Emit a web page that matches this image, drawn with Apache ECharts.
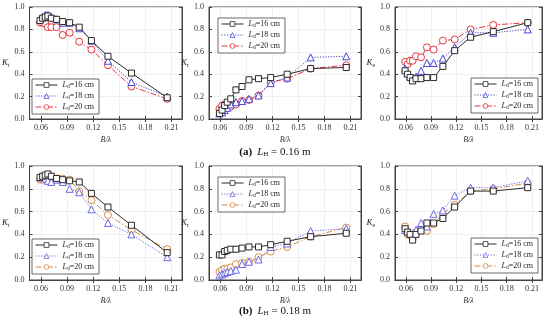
<!DOCTYPE html>
<html><head><meta charset="utf-8">
<script src="https://cdn.jsdelivr.net/npm/echarts@6/dist/echarts.min.js"></script>
<style>html,body{margin:0;padding:0;background:#fff}#c{width:550px;height:323px}</style>
</head><body><div id="c"></div>
<script>
// B/lambda values (shared by all series)
const xVals = [0.059, 0.062, 0.065, 0.068, 0.072, 0.078, 0.085, 0.093, 0.104, 0.118, 0.137, 0.164, 0.205];
const xTicks = [0.06, 0.09, 0.12, 0.15, 0.18, 0.21];
const yTicks = [0, 0.2, 0.4, 0.6, 0.8, 1.0];
const legendLabels = ['Ld=16 cm', 'Ld=18 cm', 'Ld=20 cm'];
const yNames = ['t', 'r', 'e'];
const captions = ['(a) LH = 0.16 m', '(b) LH = 0.18 m'];

// (a) LH = 0.16 m
const aKt16 = [0.88, 0.90, 0.91, 0.92, 0.90, 0.89, 0.87, 0.86, 0.82, 0.70, 0.56, 0.41, 0.19];
const aKt18 = [0.89, 0.91, 0.93, 0.93, 0.91, 0.89, 0.86, 0.86, 0.81, 0.70, 0.52, 0.33, 0.20];
const aKt20 = [0.86, 0.86, 0.85, 0.82, 0.82, 0.82, 0.75, 0.77, 0.69, 0.62, 0.48, 0.29, 0.18];
const aKr16 = [0.05, 0.08, 0.12, 0.15, 0.18, 0.26, 0.29, 0.35, 0.36, 0.37, 0.40, 0.45, 0.46];
const aKr18 = [0.05, 0.06, 0.08, 0.10, 0.13, 0.15, 0.16, 0.18, 0.21, 0.32, 0.37, 0.55, 0.56];
const aKr20 = [0.09, 0.12, 0.13, 0.10, 0.11, 0.13, 0.16, 0.17, 0.21, 0.33, 0.36, 0.45, 0.48];
const aKe16 = [0.43, 0.40, 0.37, 0.34, 0.36, 0.36, 0.37, 0.37, 0.47, 0.61, 0.73, 0.78, 0.86];
const aKe18 = [0.45, 0.41, 0.38, 0.37, 0.38, 0.43, 0.50, 0.50, 0.54, 0.64, 0.77, 0.77, 0.80];
const aKe20 = [0.51, 0.49, 0.52, 0.52, 0.56, 0.55, 0.64, 0.62, 0.70, 0.71, 0.80, 0.84, 0.86];
// (b) LH = 0.18 m
const bKt16 = [0.90, 0.91, 0.92, 0.93, 0.91, 0.89, 0.88, 0.87, 0.86, 0.76, 0.64, 0.48, 0.24];
const bKt18 = [0.90, 0.90, 0.89, 0.87, 0.86, 0.88, 0.86, 0.80, 0.77, 0.62, 0.50, 0.40, 0.20];
const bKt20 = [0.88, 0.88, 0.90, 0.91, 0.90, 0.89, 0.89, 0.88, 0.78, 0.70, 0.57, 0.44, 0.27];
const bKr16 = [0.22, 0.22, 0.25, 0.26, 0.27, 0.27, 0.28, 0.29, 0.29, 0.31, 0.34, 0.38, 0.41];
const bKr18 = [0.04, 0.05, 0.06, 0.07, 0.08, 0.09, 0.14, 0.16, 0.18, 0.29, 0.32, 0.43, 0.45];
const bKr20 = [0.07, 0.09, 0.10, 0.10, 0.11, 0.14, 0.15, 0.16, 0.20, 0.25, 0.29, 0.38, 0.46];
const bKe16 = [0.45, 0.42, 0.40, 0.35, 0.40, 0.43, 0.50, 0.50, 0.54, 0.64, 0.78, 0.78, 0.81];
const bKe18 = [0.44, 0.43, 0.41, 0.38, 0.44, 0.50, 0.47, 0.58, 0.61, 0.74, 0.81, 0.81, 0.87];
const bKe20 = [0.47, 0.40, 0.39, 0.37, 0.42, 0.45, 0.43, 0.49, 0.58, 0.66, 0.78, 0.80, 0.85];

const panelData = [
  [aKt16, aKt18, aKt20], [aKr16, aKr18, aKr20], [aKe16, aKe18, aKe20],
  [bKt16, bKt18, bKt20], [bKr16, bKr18, bKr20], [bKe16, bKe18, bKe20]
];

const FONT = 'Liberation Serif';
const lefts = [24, 209, 395];
const widths = [158, 152, 147];
const tops = [7, 166];
const heights = [112, 114];
const colorsTop = ['#2a2a2a', '#4747dd', '#e8333c'];
const colorsBot = ['#2a2a2a', '#6a6ae6', '#d58c4c'];
const symbols = ['rect', 'triangle', 'circle'];
const symSizes = [6, 7, 7];
const lineTypes = ['solid', [1.2, 1.5], [6, 2, 1.5, 2]];

const rich = {
  i: {fontFamily: FONT, fontStyle: 'italic', fontSize: 8, color: '#222'},
  s: {fontFamily: FONT, fontSize: 5.5, color: '#222', padding: [4, 0, 0, 0]},
  t: {fontFamily: FONT, fontSize: 8, color: '#222'}
};

const grid = [], xAxis = [], yAxis = [], series = [], legend = [];
const legendPos = [
  {left: 32, top: 79}, {left: 218, top: 18}, {right: 12, top: 78},
  {left: 32, top: 239}, {left: 218, top: 177}, {right: 12, top: 238}
];

for (let p = 0; p < 6; p++) {
  const r = Math.floor(p / 3), c = p % 3;
  grid.push({left: lefts[c], top: tops[r], width: widths[c], height: heights[r],
    show: true, borderColor: '#444', borderWidth: 1, backgroundColor: 'transparent'});
  const gi = p;
  xAxis.push({
    type: 'value', gridIndex: gi, min: 0.047, max: 0.222, position: 'bottom',
    name: 'B/λ', nameLocation: 'middle', nameGap: 17,
    nameTextStyle: {fontFamily: FONT, fontStyle: 'italic', fontSize: 8, color: '#333'},
    axisLine: {show: true, lineStyle: {color: '#444', width: 1}},
    axisTick: {show: true, inside: true, length: 3, customValues: xTicks, lineStyle: {color: '#444'}},
    axisLabel: {customValues: xTicks, formatter: v => v.toFixed(2), fontFamily: FONT, fontSize: 8, color: '#333', margin: 5},
    splitLine: {show: true, lineStyle: {color: '#ececec', width: 0.8}}
  });
  xAxis.push({
    type: 'value', gridIndex: gi, min: 0.047, max: 0.222, position: 'top',
    axisLine: {show: true, lineStyle: {color: '#444', width: 1}},
    axisTick: {show: true, inside: true, length: 3, customValues: xTicks, lineStyle: {color: '#444'}},
    axisLabel: {show: false}, splitLine: {show: false}
  });
  yAxis.push({
    type: 'value', gridIndex: gi, min: 0, max: 1, interval: 0.2, position: 'left',
    name: '{i|K}{s|' + yNames[c] + '}', nameLocation: 'middle', nameGap: 14, nameRotate: 0,
    nameTextStyle: {rich: {
      i: {fontFamily: FONT, fontStyle: 'italic', fontSize: 9, color: '#222'},
      s: {fontFamily: FONT, fontSize: 6, color: '#222', padding: [5, 0, 0, 0]}
    }},
    axisLine: {show: true, lineStyle: {color: '#444', width: 1}},
    axisTick: {show: true, inside: true, length: 3, lineStyle: {color: '#444'}},
    axisLabel: {formatter: v => v.toFixed(1), fontFamily: FONT, fontSize: 8, color: '#333', margin: 5},
    splitLine: {show: true, lineStyle: {color: '#ececec', width: 0.8}}
  });
  yAxis.push({
    type: 'value', gridIndex: gi, min: 0, max: 1, interval: 0.2, position: 'right',
    axisLine: {show: true, lineStyle: {color: '#444', width: 1}},
    axisTick: {show: true, inside: true, length: 3, lineStyle: {color: '#444'}},
    axisLabel: {show: false}, splitLine: {show: false}
  });
  const colors = r === 0 ? colorsTop : colorsBot;
  const names = [];
  for (let s = 0; s < 3; s++) {
    const nm = 'p' + p + '_' + s;
    names.push(nm);
    series.push({
      type: 'line', name: nm, xAxisIndex: 2 * p, yAxisIndex: 2 * p,
      data: xVals.map((x, i) => [x, panelData[p][s][i]]),
      symbol: symbols[s], symbolSize: symSizes[s], showAllSymbol: true,
      lineStyle: {color: colors[s], width: 1, type: lineTypes[s]},
      itemStyle: {color: '#fff', borderColor: colors[s], borderWidth: 1},
      z: 10 - s, animation: false
    });
  }
  legend.push(Object.assign({
    orient: 'vertical', data: names, itemWidth: 22, itemHeight: 6, itemGap: 2,
    padding: [2, 5, 2, 3], borderColor: '#444', borderWidth: 0.8, backgroundColor: '#fff',
    selectedMode: false,
    itemStyle: {borderWidth: 0.8},
    lineStyle: {width: 1},
    formatter: name => {
      const s = +name.split('_')[1];
      const lab = legendLabels[s];
      return '{i|L}{s|d}{t|' + lab.slice(2) + '}';
    },
    textStyle: {rich: rich, fontFamily: FONT, fontSize: 8}
  }, legendPos[p]));
}

const capRich = {
  b: {fontFamily: FONT, fontWeight: 'bold', fontSize: 11, color: '#111'},
  i: {fontFamily: FONT, fontStyle: 'italic', fontWeight: 'normal', fontSize: 11, color: '#111'},
  s: {fontFamily: FONT, fontWeight: 'normal', fontSize: 7, color: '#111', padding: [5, 0, 0, 0]},
  t: {fontFamily: FONT, fontWeight: 'normal', fontSize: 11, color: '#111'}
};
const title = captions.map((cap, k) => ({
  text: '{b|' + cap.slice(0, 3) + '} {i|L}{s|H}{t|' + cap.slice(6) + '}',
  left: 'center', top: k === 0 ? 143 : 302, padding: 0,
  textStyle: {rich: capRich, fontWeight: 'normal'}
}));

const chart = echarts.init(document.getElementById('c'), null, {renderer: 'canvas'});
chart.setOption({animation: false, title, grid, xAxis, yAxis, series, legend});
</script></body></html>
